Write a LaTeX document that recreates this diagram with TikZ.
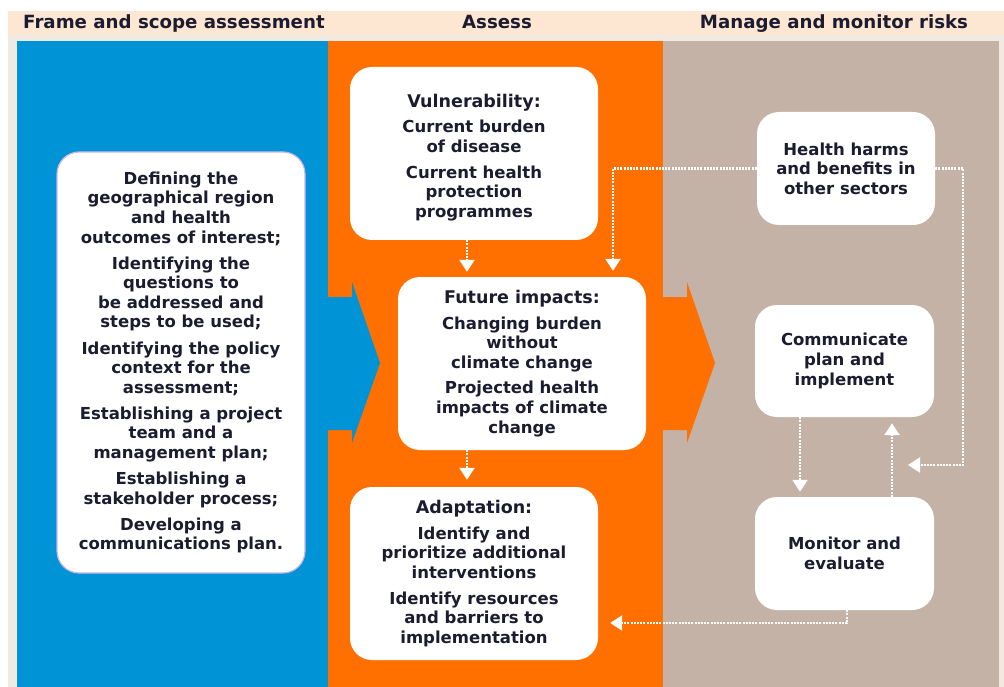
\documentclass[tikz,border=0pt]{standalone}
\usepackage{fontspec}
\setmainfont{DejaVu Sans}
\usetikzlibrary{arrows.meta,calc}
\definecolor{cblue}{RGB}{0,147,214}
\definecolor{corange}{RGB}{255,112,0}
\definecolor{ctan}{RGB}{196,178,166}
\definecolor{cpeach}{RGB}{253,230,210}
\definecolor{cframe}{RGB}{240,234,226}
\definecolor{cink}{RGB}{28,28,48}
\definecolor{cedge}{RGB}{195,182,228}
\newcommand\ttlfont{\fontsize{17.5}{19.6}\selectfont}
\tikzset{
  box/.style={fill=white, draw=none, rounded corners=22pt, inner sep=0pt,
    font=\fontsize{16.5}{19.6}\selectfont\bfseries, text=cink, align=center},
  txt/.style={inner sep=0pt, font=\fontsize{16.5}{19.6}\selectfont\bfseries, text=cink, align=center},
  head/.style={font=\fontsize{18.2}{20}\selectfont\bfseries, text=cink, anchor=base},
  flow/.style={white, line width=2.2pt, dash pattern=on 2pt off 1.2pt,
    -{Triangle[width=15pt,length=12pt]}}
}
\begin{document}
\begin{tikzpicture}[x=1pt,y=-1pt]
\useasboundingbox (0,0) rectangle (1004,687);
% background bands
\fill[cpeach] (8,11) rectangle (1004,35);
\fill[cframe] (8,35) rectangle (1004,687);
\fill[cblue] (17,41) rectangle (328,687);
\fill[corange] (328,41) rectangle (663,687);
\fill[ctan] (663,41) rectangle (999,687);
% block arrows
\fill[cblue] (328,297) -- (352,297) -- (352,282) -- (380,363) -- (352,443) -- (352,430) -- (328,430) -- cycle;
\fill[corange] (663,297) -- (687,297) -- (687,282) -- (715,363) -- (687,443) -- (687,430) -- (663,430) -- cycle;
% headers
\node[head] (h1) at (174,29) {Frame and scope assessment};
\node[head] (h2) at (497,29) {Assess};
\node[head] (h3) at (834,29) {Manage and monitor risks};
% boxes
\node[box, draw=cedge, line width=1.2pt, minimum width=248pt, minimum height=421pt] (frm) at (181,362.5)
 {Defining the\\geographical region\\and health\\outcomes of interest;\\[6.5pt]
  Identifying the\\questions to\\be addressed and\\steps to be used;\\[6.5pt]
  Identifying the policy\\context for the\\assessment;\\[6.5pt]
  Establishing a project\\team and a\\management plan;\\[6.5pt]
  Establishing a\\stakeholder process;\\[6.5pt]
  Developing a\\communications plan.};
\node[box, minimum width=248pt, minimum height=173pt] (vul) at (474,153.5) {};
\node[txt] (vult) at ([yshift=-4pt]vul.center)
 {{\ttlfont Vulnerability:}\\[6pt]Current burden\\of disease\\[6pt]Current health\\protection\\programmes};
\node[box, minimum width=248pt, minimum height=173pt] (fut) at (522,363.5)
 {{\ttlfont Future impacts:}\\[6pt]Changing burden\\without\\climate change\\[6pt]Projected health\\impacts of climate\\change};
\node[box, minimum width=248pt, minimum height=173pt] (ada) at (474,573.5)
 {{\ttlfont Adaptation:}\\[6pt]Identify and\\prioritize additional\\interventions\\[6pt]Identify resources\\and barriers to\\implementation};
\node[box, minimum width=178pt, minimum height=113pt] (hh) at (846,168.5)
 {Health harms\\and benefits in\\other sectors};
\node[box, minimum width=179pt, minimum height=112pt] (com) at (844.5,361)
 {Communicate\\plan and\\implement};
\node[box, minimum width=179pt, minimum height=113pt] (mon) at (844.5,553.5)
 {Monitor and\\evaluate};
% helper coordinates
\coordinate (xa) at (467,0);
\coordinate (xb) at (613,0);
\coordinate (xc) at (963,0);
\coordinate (xd) at (800,0);
\coordinate (xe) at (892,0);
\coordinate (xf) at (847,0);
\coordinate (yg) at (0,465);
\coordinate (yh) at (0,623);
\coordinate (t4) at (908,465);
% connectors
\draw[flow] (vul.south -| xa) -- ([yshift=5pt]fut.north -| xa);
\draw[flow] (hh.west) -| ([yshift=6pt]fut.north -| xb);
\draw[flow] (fut.south -| xa) -- ([yshift=7pt]ada.north -| xa);
\draw[flow] (hh.east) -| (xc |- yg) -- (t4);
\draw[flow] (com.south -| xd) -- ([yshift=5pt]mon.north -| xd);
\draw[flow] (mon.north -| xe) -- ([yshift=-6pt]com.south -| xe);
\draw[flow] (mon.south -| xf) |- ([xshift=12pt]ada.east |- yh);
\end{tikzpicture}
\end{document}
